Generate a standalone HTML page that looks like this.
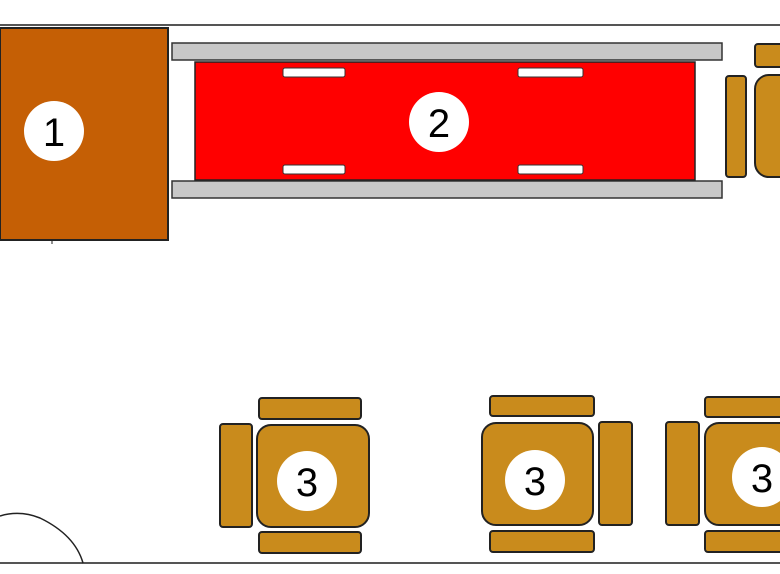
<!DOCTYPE html>
<html><head><style>html,body{margin:0;padding:0;background:#fff;width:780px;height:574px;overflow:hidden}</style></head>
<body>
<svg width="780" height="574" viewBox="0 0 780 574" xmlns="http://www.w3.org/2000/svg" font-family="Liberation Sans, sans-serif">
<line x1="0" y1="25" x2="780" y2="25" stroke="#555" stroke-width="2"/>
<line x1="0" y1="563" x2="780" y2="563" stroke="#555" stroke-width="2"/>
<path d="M0 516 Q20 510 40 518 Q75 535 83 563" fill="none" stroke="#222" stroke-width="1.5"/>
<rect x="0" y="28" width="168" height="212" fill="#c55f05" stroke="#222" stroke-width="2"/>
<line x1="52" y1="240" x2="52" y2="244" stroke="#222"/>
<circle cx="54" cy="131" r="30" fill="#fff"/>
<text x="54" y="146" font-size="40" text-anchor="middle">1</text>
<rect x="172" y="43" width="550" height="17" fill="#c8c8c8" stroke="#333" stroke-width="1.5"/>
<rect x="172" y="181" width="550" height="17" fill="#c8c8c8" stroke="#333" stroke-width="1.5"/>
<rect x="195" y="62" width="500" height="118" fill="#ff0000" stroke="#222" stroke-width="1.5"/>
<rect x="283" y="68" width="62" height="9" rx="2" fill="#fff" stroke="#333"/>
<rect x="518" y="68" width="65" height="9" rx="2" fill="#fff" stroke="#333"/>
<rect x="283" y="165" width="62" height="9" rx="2" fill="#fff" stroke="#333"/>
<rect x="518" y="165" width="65" height="9" rx="2" fill="#fff" stroke="#333"/>
<circle cx="439" cy="122" r="30" fill="#fff"/>
<text x="439" y="137" font-size="40" text-anchor="middle">2</text>
<g fill="#c98b1c" stroke="#222" stroke-width="2">
<rect x="726" y="76" width="20" height="101" rx="3"/>
<rect x="755" y="44" width="40" height="23" rx="3"/>
<rect x="755" y="75" width="60" height="102" rx="14"/>
<rect x="220" y="424" width="32" height="103" rx="3"/>
<rect x="259" y="398" width="102" height="21" rx="3"/>
<rect x="259" y="532" width="102" height="21" rx="3"/>
<rect x="257" y="425" width="112" height="102" rx="14"/>
<rect x="490" y="396" width="104" height="20" rx="3"/>
<rect x="490" y="531" width="104" height="21" rx="3"/>
<rect x="482" y="423" width="111" height="102" rx="14"/>
<rect x="599" y="422" width="33" height="103" rx="3"/>
<rect x="666" y="422" width="33" height="103" rx="3"/>
<rect x="705" y="397" width="90" height="20" rx="3"/>
<rect x="705" y="531" width="90" height="21" rx="3"/>
<rect x="705" y="423" width="100" height="102" rx="14"/>
</g>
<g fill="#fff"><circle cx="307" cy="481" r="30"/><circle cx="535" cy="480" r="30"/><circle cx="762" cy="477" r="30"/></g>
<g font-size="40" text-anchor="middle"><text x="307" y="496">3</text><text x="535" y="495">3</text><text x="762" y="492">3</text></g>
</svg>
</body></html>
